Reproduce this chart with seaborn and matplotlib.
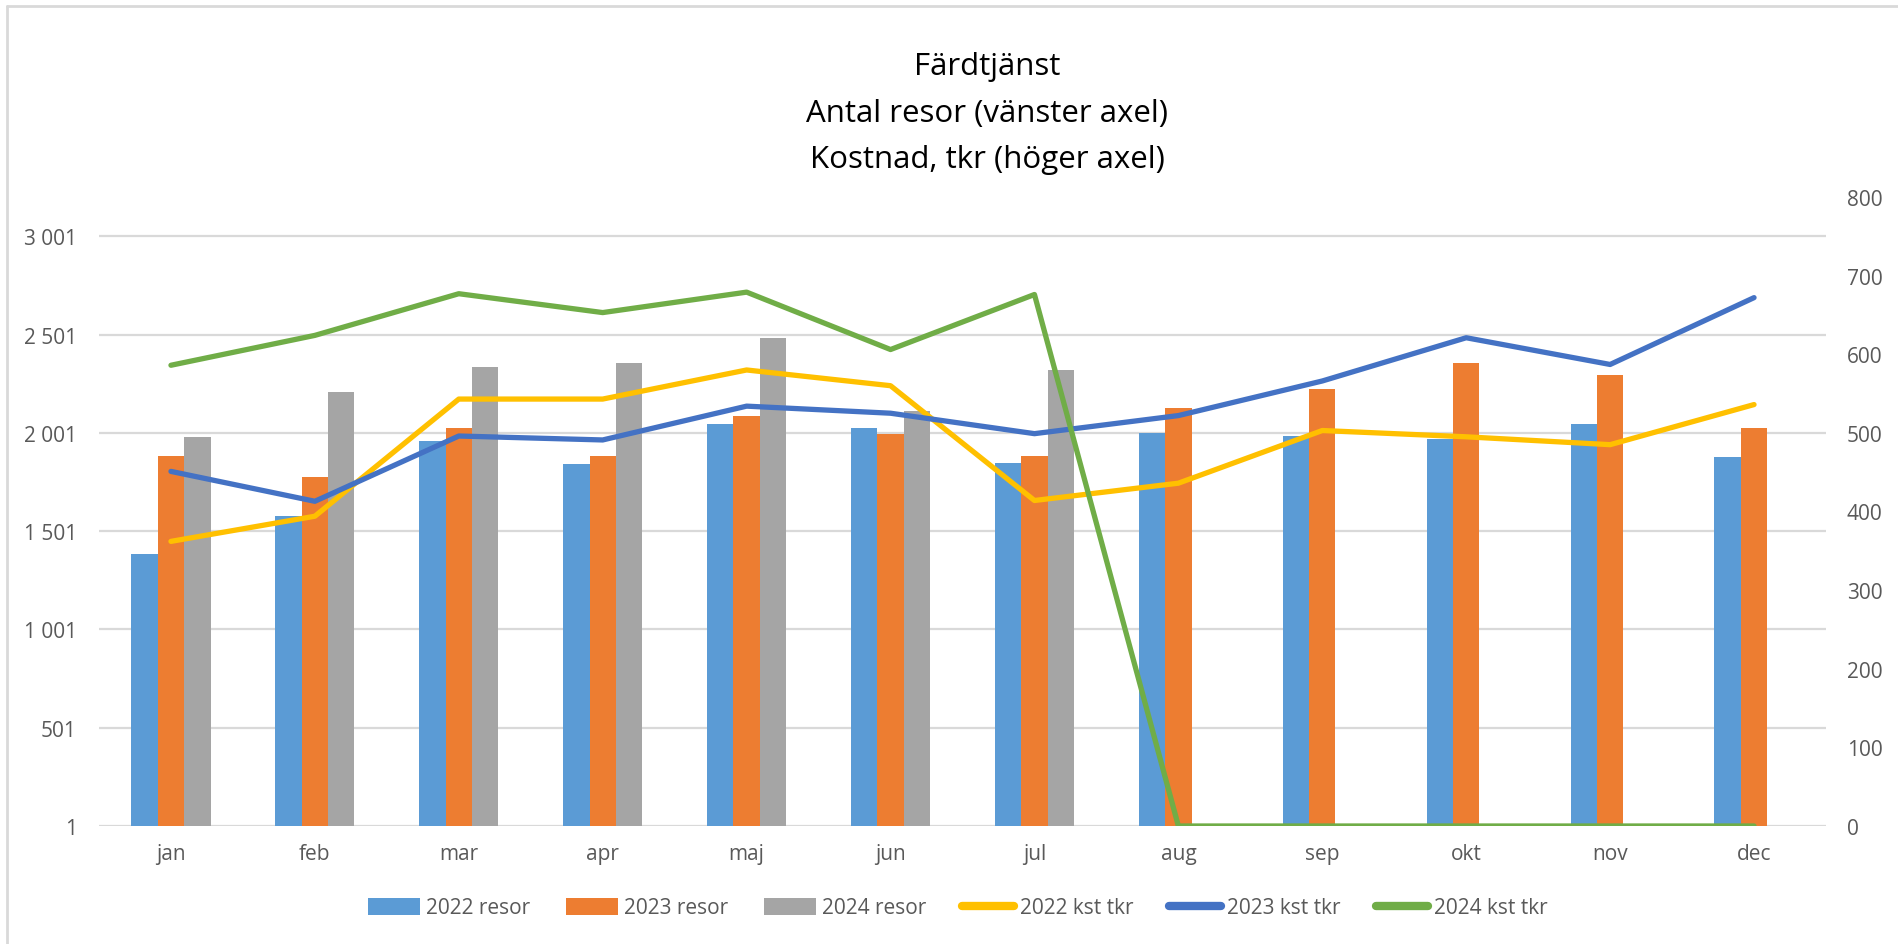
import numpy as np
import pandas as pd
import matplotlib
matplotlib.use("Agg")
import matplotlib.pyplot as plt
import seaborn as sns
from matplotlib.ticker import FixedLocator, FuncFormatter
from matplotlib.lines import Line2D
from matplotlib.patches import Patch

months = ["jan", "feb", "mar", "apr", "maj", "jun", "jul", "aug", "sep", "okt", "nov", "dec"]

resor_2022 = [1385, 1578, 1959, 1845, 2044, 2027, 1849, 1999, 1985, 1971, 2048, 1877]
resor_2023 = [1883, 1779, 2025, 1883, 2088, 1995, 1883, 2126, 2222, 2355, 2294, 2025]
resor_2024 = [1978, 2209, 2336, 2355, 2482, 2114, 2319, np.nan, np.nan, np.nan, np.nan, np.nan]

kst_2022 = [362, 394, 543, 543, 580, 560, 414, 436, 503, 495, 485, 536]
kst_2023 = [451, 413, 496, 491, 534, 525, 499, 522, 566, 621, 587, 672]
kst_2024 = [586, 624, 677, 653, 679, 606, 676, 0, 0, 0, 0, 0]

bar_names = ["2022 resor", "2023 resor", "2024 resor"]
line_names = ["2022 kst tkr", "2023 kst tkr", "2024 kst tkr"]
bar_colors = ["#5B9BD5", "#ED7D31", "#A5A5A5"]
line_colors = ["#FFC000", "#4472C4", "#70AD47"]

title_lines = ["Färdtjänst", "Antal resor (vänster axel)", "Kostnad, tkr (höger axel)"]

sns.set_theme(style="white")
plt.rcParams["font.family"] = ["Open Sans", "DejaVu Sans"]

bars_df = pd.DataFrame({
    "month": months * 3,
    "series": sum([[n] * 12 for n in bar_names], []),
    "value": resor_2022 + resor_2023 + resor_2024,
}).dropna()

lines_df = pd.DataFrame({
    "pos": list(range(12)) * 3,
    "series": sum([[n] * 12 for n in line_names], []),
    "value": kst_2022 + kst_2023 + kst_2024,
})

fig = plt.figure(figsize=(18.98, 9.45), dpi=100)
ax = fig.add_axes([99 / 1898, 1 - 827 / 945, (1826 - 99) / 1898, (827 - 198) / 945])

sns.barplot(data=bars_df, x="month", y="value", hue="series", order=months,
            hue_order=bar_names, palette=bar_colors, width=0.55, saturation=1,
            errorbar=None, legend=False, ax=ax, zorder=2, linewidth=0, edgecolor="none")

ax.set_xlim(-0.5, 11.5)
ax.set_ylim(1, 3201)
ax.yaxis.set_major_locator(FixedLocator([1, 501, 1001, 1501, 2001, 2501, 3001]))
ax.yaxis.set_major_formatter(FuncFormatter(lambda v, p: f"{int(round(v)):,}".replace(",", " ")))
ax.grid(axis="y", color="#D9D9D9", linewidth=1.6, zorder=0)
ax.grid(axis="x", visible=False)
ax.set_axisbelow(True)
for s in ax.spines.values():
    s.set_visible(False)
ax.set_xlabel("")
ax.set_ylabel("")
ax.tick_params(axis="y", length=0, pad=16, labelsize=15, labelcolor="#595959")
ax.tick_params(axis="x", length=0, pad=12, labelsize=15, labelcolor="#595959")

ax2 = ax.twinx()
sns.lineplot(data=lines_df, x="pos", y="value", hue="series", hue_order=line_names,
             palette=line_colors, linewidth=3.8, legend=False, ax=ax2, zorder=3)
ax2.set_ylim(0, 800)
ax2.yaxis.set_major_locator(FixedLocator(list(range(0, 801, 100))))
ax2.set_xlim(-0.5, 11.5)
ax2.set_xlabel("")
ax2.set_ylabel("")
ax2.grid(False)
for s in ax2.spines.values():
    s.set_visible(False)
ax2.tick_params(axis="y", length=0, pad=15, labelsize=15, labelcolor="#595959")
for ln in ax2.get_lines():
    ln.set_solid_capstyle("round")
    ln.set_solid_joinstyle("round")

# title
for txt, yp in zip(title_lines, [67, 114, 160]):
    fig.text(0.52, 1 - yp / 945, txt, ha="center", va="center", fontsize=22.5, color="#000000")

# legend
handles = [Patch(facecolor=c, edgecolor="none") for c in bar_colors] + \
          [Line2D([0], [0], color=c, linewidth=6, solid_capstyle="round") for c in line_colors]
labels = bar_names + line_names
fig.legend(handles, labels, loc="center", bbox_to_anchor=(958 / 1898, 1 - 909 / 945), ncol=6,
           frameon=False, fontsize=15, handlelength=2.5, handleheight=0.85, handletextpad=0.3,
           columnspacing=1.7, labelcolor="#595959")

# chart border (top & left visible)
fig.add_artist(Line2D([7 / 1898, 7 / 1898], [0, 1 - 7 / 945], transform=fig.transFigure,
                      color="#D9D9D9", linewidth=2))
fig.add_artist(Line2D([7 / 1898, 1], [1 - 7 / 945, 1 - 7 / 945], transform=fig.transFigure,
                      color="#D9D9D9", linewidth=2))

fig.savefig("out.png", dpi=100, facecolor="white")
